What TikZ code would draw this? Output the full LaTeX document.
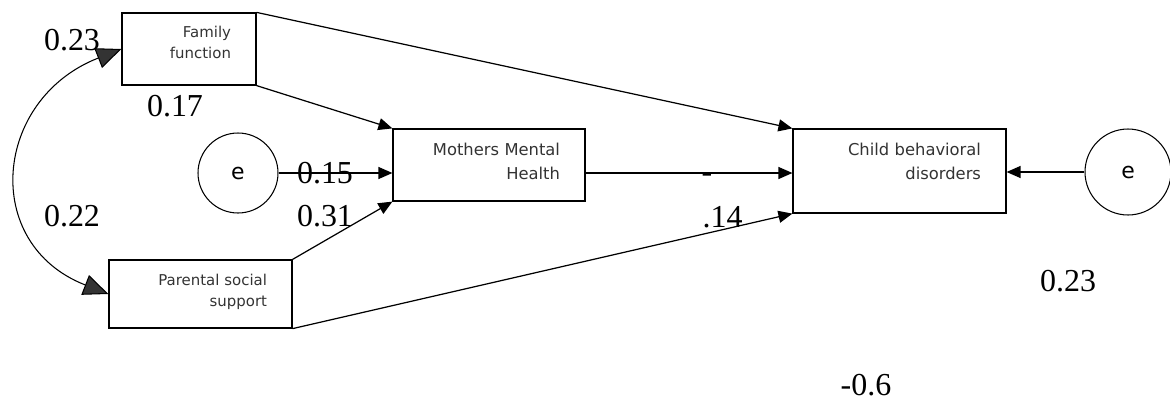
\documentclass[tikz,border=0pt]{standalone}
\usepackage{fontspec}
\setmainfont{Liberation Serif}
\newfontfamily\boxfont{DejaVu Sans}
\usetikzlibrary{arrows.meta}
\tikzset{bigtip/.tip={Triangle[length=.5cm,width=.42cm,fill=black!80]}}
\begin{document}
\begin{tikzpicture}[x=0.02cm,y=-0.02cm,
 box/.style={draw,line width=.7pt,align=right,inner xsep=.5cm,text=black!80},
 small/.style={font=\boxfont\fontsize{8.5}{11.6}\selectfont},
 large/.style={font=\boxfont\fontsize{9.3}{14}\selectfont},
 err/.style={draw,circle,line width=.6pt,minimum size=1.6cm,inner sep=0pt,
  font=\boxfont\fontsize{12.5}{14}\selectfont},
 coef/.style={inner sep=0pt,font=\fontsize{18.2}{20}\selectfont},
 link/.style={line width=.7pt,-{Triangle[length=.28cm,width=.24cm]}}]
\useasboundingbox (0,0) rectangle (1170,403);
% observed variables
\node[box,small,text width=1.68cm,minimum height=1.44cm,text depth=19pt] (fam)
 at (189,49) {Family\\function};
\node[box,small,text width=2.66cm,minimum height=1.36cm,text depth=16pt] (par)
 at (200.5,294) {Parental social\\support};
\node[box,large,text width=2.84cm,minimum height=1.44cm,text depth=18pt] (mmh)
 at (489,165) {Mothers Mental\\Health};
\node[box,large,text width=3.26cm,minimum height=1.68cm,text depth=25pt] (cbd)
 at (899.5,171) {Child behavioral\\disorders};
% error terms
\node[err] (e1) at (238,173) {e};
\node[err,minimum height=1.72cm] (e2) at (1128,172) {e};
% paths
\draw[link] (fam.north east) -- (cbd.north west);
\draw[link] (fam.south east) -- (mmh.north west);
\draw[link] (e1.east) -- (e1.east -| mmh.west);
\draw[link] (par.north east) -- (mmh.south west);
\draw[link] (mmh.east |- e1.east) -- (cbd.west |- e1.east);
\draw[link] (par.south east) -- (cbd.south west);
\draw[link] (e2.west) -- (e2.west -| cbd.east);
\draw[line width=.6pt,bigtip-bigtip] (fam.west)
 .. controls +(-128,50) and +(-128,-50) .. (par.west);
% coefficients
\node[coef] (c23a) at (72,40) {0.23};
\node[coef] (c17) at (175,106) {0.17};
\node[coef] (c15) at (325,173) {0.15};
\node[coef] (c31) at (325,216) {0.31};
\node[coef] (c22) at (72,216) {0.22};
\node[coef,anchor=base] (cdash) at (707,182) {-};
\node[coef] (c14) at (722.5,217.5) {.14};
\node[coef] (c23b) at (1068,281) {0.23};
\node[coef] (c06) at (866,385) {-0.6};
\end{tikzpicture}
\end{document}
